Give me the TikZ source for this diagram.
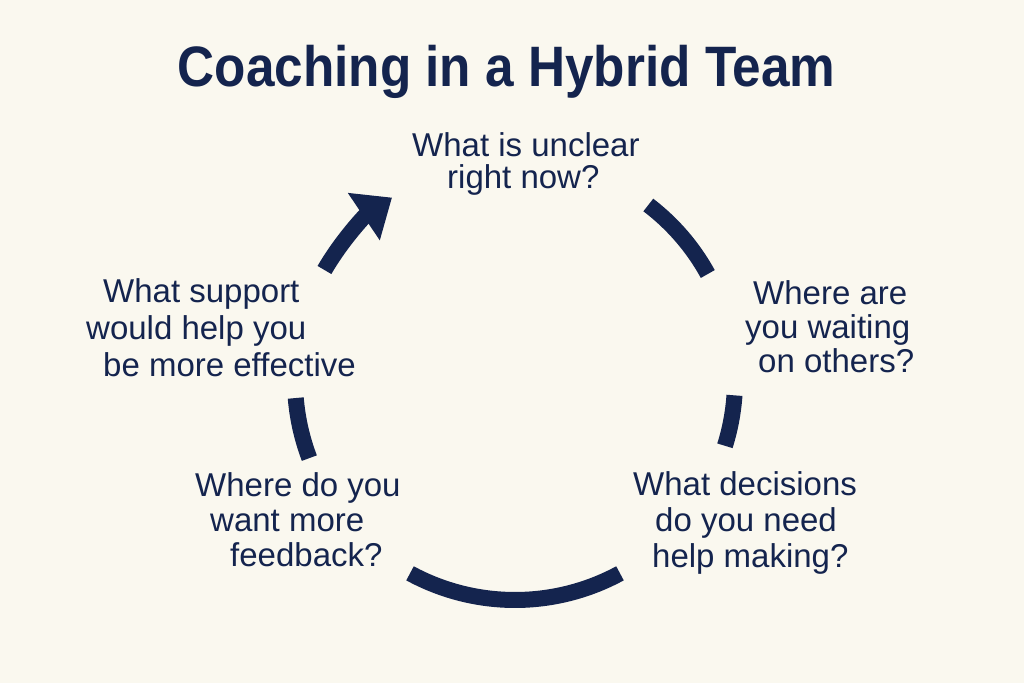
\documentclass[tikz,border=0pt]{standalone}
\usepackage{fontspec}
\usepackage{graphicx}
\setmainfont{Liberation Sans}
\usetikzlibrary{arrows.meta}
\definecolor{navy}{HTML}{14244E}
\definecolor{bgc}{HTML}{FAF8EF}
\tikzset{
  question/.style={anchor=base west, inner sep=0pt, text=navy, font=\fontsize{33}{35}\selectfont},
  ring/.style={draw=navy, line width=16pt, line cap=butt},
}
\begin{document}
\begin{tikzpicture}[x=1pt,y=1pt]
\useasboundingbox (0,0) rectangle (1024,683);
\fill[bgc] (0,0) rectangle (1024,683);

\node[anchor=base, inner sep=0pt, text=navy, font=\fontsize{57}{60}\selectfont\bfseries] (title) at (506.5,596)
  {\scalebox{0.9}[1]{Coaching in a Hybrid Team}};

\coordinate (c) at (515,303);

\node[question] (q1) at (412,526.3)
  {\vtop{\baselineskip=32pt\hbox{What is unclear}\hbox{\kern35pt right now?}}};
\node[question] (q2) at (745,378)
  {\vtop{\baselineskip=34pt\hbox{\kern8pt Where are}\hbox{you waiting}\hbox{\kern13pt on others?}}};
\node[question] (q3) at (633,188)
  {\vtop{\baselineskip=36pt\hbox{What decisions}\hbox{\kern22pt do you need}\hbox{\kern19pt help making?}}};
\node[question] (q4) at (195,186.3)
  {\vtop{\baselineskip=35pt\hbox{Where do you}\hbox{\kern15pt want more}\hbox{\kern35pt feedback?}}};
\node[question] (q5) at (86,380)
  {\vtop{\baselineskip=37pt\hbox{\kern17pt What support}\hbox{would help you}\hbox{\kern17pt be more effective}}};

\draw[ring] (c) ++(52.7:220) arc[start angle=52.7, end angle=28.8, radius=220];
\draw[ring] (c) ++(-4:220) arc[start angle=-4, end angle=-17.4, radius=220];
\draw[ring] (c) ++(-61.5:220) arc[start angle=-61.5, end angle=-118.5, radius=220];
\draw[ring] (c) ++(200.8:220) arc[start angle=200.8, end angle=184.7, radius=220];
\draw[ring, -{Triangle[length=34pt,width=55pt]}] (c) ++(150:220) arc[start angle=150, end angle=124, radius=220];
\end{tikzpicture}
\end{document}
